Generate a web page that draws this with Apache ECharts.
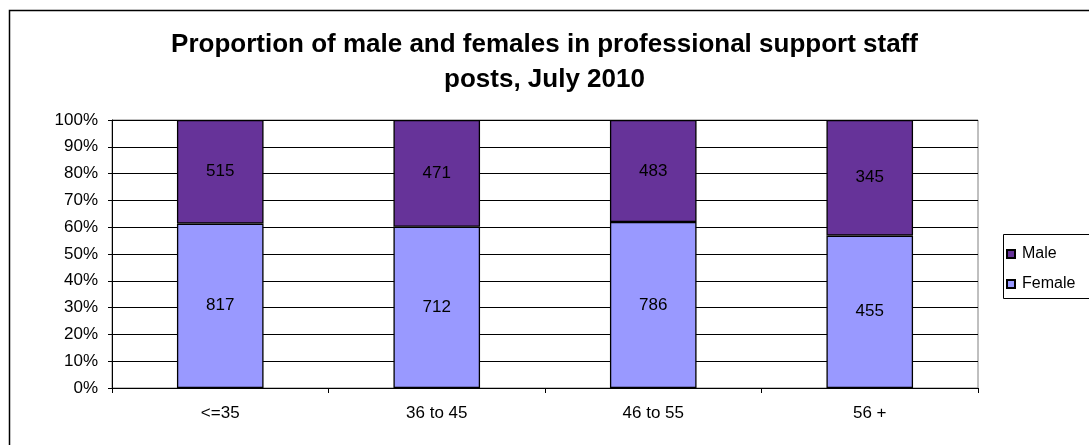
<!DOCTYPE html>
<html>
<head>
<meta charset="utf-8">
<script src="https://cdn.jsdelivr.net/npm/echarts@6/dist/echarts.min.js"></script>
<style>
html,body{margin:0;padding:0;background:#fff;}
#chart{width:1089px;height:445px;}
</style>
</head>
<body>
<div id="chart"></div>
<script>
var categories = ['<=35', '36 to 45', '46 to 55', '56 +'];
var femaleValues = [817, 712, 786, 455];
var maleValues = [515, 471, 483, 345];
var seriesNames = ['Male', 'Female'];
var titleText = 'Proportion of male and females in professional support staff\nposts, July 2010';

var FONT = 'Arial, "Liberation Sans", sans-serif';
var totals = categories.map(function (c, i) { return femaleValues[i] + maleValues[i]; });
function pct(arr) {
  return arr.map(function (v, i) { return { value: v / totals[i] * 100, raw: v }; });
}

var chart = echarts.init(document.getElementById('chart'), null, { renderer: 'canvas' });
var labelCfg = {
  show: true,
  position: 'inside',
  color: '#000',
  fontFamily: FONT,
  fontSize: 17,
  formatter: function (p) { return p.data.raw; }
};
chart.setOption({
  animation: false,
  backgroundColor: '#fff',
  title: {
    text: titleText,
    left: 'center',
    top: 27,
    padding: 0,
    textStyle: { fontFamily: FONT, fontSize: 26, fontWeight: 'bold', color: '#000', lineHeight: 35 }
  },
  graphic: [
    { type: 'rect', shape: { x: 9.5, y: 10.5, width: 1200, height: 600 }, style: { fill: null, stroke: '#000', lineWidth: 1.5 }, silent: true, z: 100 },
    { type: 'rect', shape: { x: 1003.5, y: 234.5, width: 200, height: 64 }, style: { fill: '#fff', stroke: '#000', lineWidth: 1 }, silent: true, z: 1 }
  ],
  legend: {
    orient: 'vertical',
    left: 1006,
    top: 246,
    padding: 0,
    itemWidth: 8,
    itemHeight: 8,
    itemGap: 14,
    icon: 'rect',
    data: seriesNames,
    z: 10,
    textStyle: { fontFamily: FONT, fontSize: 16, color: '#000', padding: [0, 0, 0, 2] }
  },
  grid: {
    left: 112, right: 111, top: 120, bottom: 57,
    show: true, borderColor: '#808080', borderWidth: 1, backgroundColor: '#fff'
  },
  xAxis: {
    type: 'category',
    data: categories,
    axisLine: { lineStyle: { color: '#000', width: 1 } },
    axisTick: { show: true, alignWithLabel: false, length: 5, lineStyle: { color: '#000' } },
    axisLabel: { fontFamily: FONT, fontSize: 17, color: '#000', margin: 17 },
    splitLine: { show: false }
  },
  yAxis: {
    type: 'value',
    min: 0, max: 100, interval: 10,
    axisLine: { show: true, lineStyle: { color: '#000', width: 1 } },
    axisTick: { show: true, length: 4, lineStyle: { color: '#000' } },
    axisLabel: { fontFamily: FONT, fontSize: 17, color: '#000', margin: 14, formatter: '{value}%' },
    splitLine: { show: true, lineStyle: { color: '#000', width: 1 } }
  },
  series: [
    {
      name: 'Female', type: 'bar', stack: 'total', barWidth: '40%',
      data: pct(femaleValues),
      itemStyle: { color: '#9999FF', borderColor: '#000', borderWidth: 1.3 },
      label: labelCfg
    },
    {
      name: 'Male', type: 'bar', stack: 'total', barWidth: '40%',
      data: pct(maleValues),
      itemStyle: { color: '#663399', borderColor: '#000', borderWidth: 1.3 },
      label: labelCfg
    }
  ]
});
</script>
</body>
</html>
